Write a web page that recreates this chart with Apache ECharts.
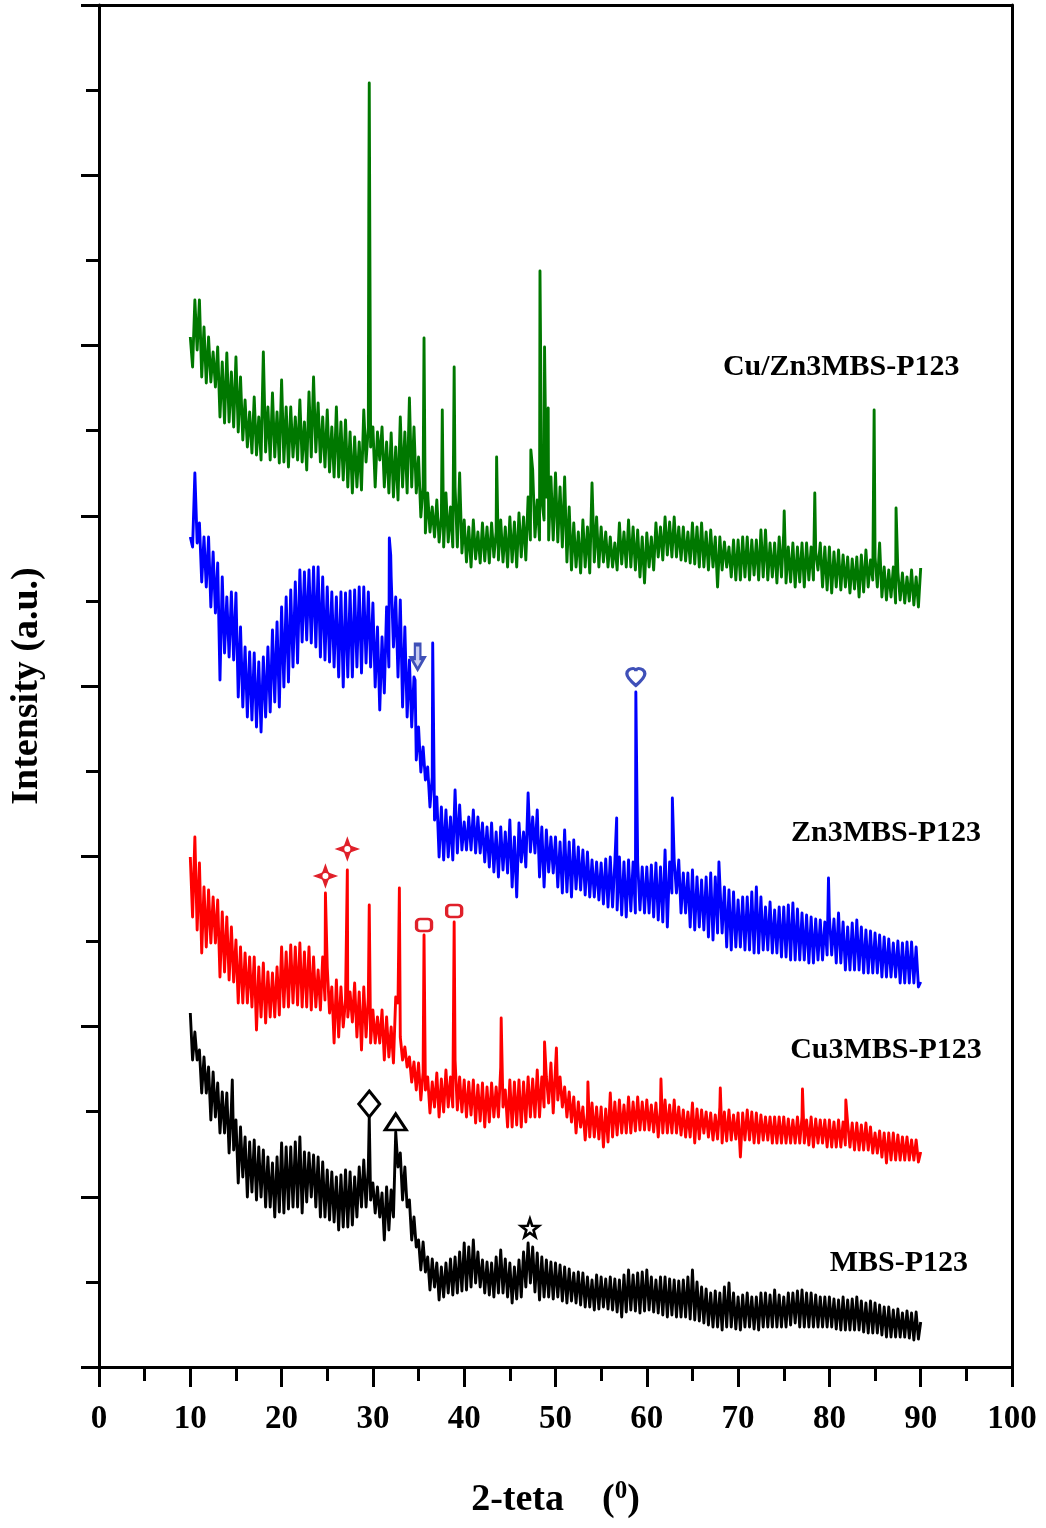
<!DOCTYPE html>
<html>
<head>
<meta charset="utf-8">
<title>XRD patterns</title>
<script src="https://cdn.jsdelivr.net/npm/echarts@6/dist/echarts.min.js"></script>
<style>
  html, body { margin: 0; padding: 0; background: #fff; }
  #chart { width: 1046px; height: 1528px; }
</style>
</head>
<body>
<div id="chart"></div>
<script>
// Scans are sampled every 0.25 deg from 10 to 90 deg (one row = one degree).
// Intensities are in a.u. with each pattern already offset, read off the figure.
const thetaStart = 10;
const thetaStep = 0.25;

const cuZn3MbsScan = [
  [1030,1000,1067,1017],[1067,990,1040,984],[1030,985,1015,980],[1020,950,1005,944],[1014,945,995,940],
  [1010,935,990,927],[967,920,955,914],[970,912,950,907],[1015,915,960,907],[974,910,955,904],
  [987,905,960,900],[960,910,950,907],[967,905,945,897],[975,910,990,915],[964,905,950,900],
  [957,895,940,890],[960,890,945,887],[947,880,935,874],[930,880,925,877],[957,905,940,920],
  [940,880,935,907],[940,880,925,874],[934,870,920,867],[950,880,935,874],[969,880,940,874],
  [910,850,880,834],[874,835,860,830],[867,825,850,820],[874,825,860,820],[880,820,894,814],
  [847,805,840,800],[847,808,835,804],[844,806,840,804],[844,810,835,807],[847,805,840,800],
  [850,805,845,800],[854,810,850,807],[870,827,897,830],[867,827,867,847],[870,827,890,827],
  [894,825,880,820],[890,805,860,797],[844,800,835,794],[847,800,840,794],[884,805,850,800],
  [840,805,835,800],[830,800,824,797],[844,803,835,800],[847,800,840,797],[837,790,830,784],
  [834,800,830,797],[844,810,840,807],[850,812,845,810],[850,810,840,807],[840,806,835,804],
  [844,803,840,800],[844,800,835,797],[837,800,830,780],[830,797,825,800],[820,790,827,787],
  [827,787,830,790],[830,787,827,792],[827,787,837,790],[837,787,824,790],[824,784,830,790],
  [835,784,820,785],[824,780,820,785],[824,780,824,787],[820,787,815,797],[824,780,820,777],
  [820,774,815,780],[817,777,812,780],[810,774,808,778],[810,770,812,775],[817,780,807,787],
  [810,780,824,770],[800,767,797,770],[800,764,795,767],[794,764,790,766],[797,762,790,760],
  [799]
].flat();
const cuZn3MbsPeaks = [[29.55,1154],[29.6,1284],[35.6,1029],[37.6,957],[38.9,1000],[43.55,910],[47.3,917],
  [48.3,1096],[48.8,1020],[49.2,959],[75.05,856],[78.4,874],[84.9,957],[87.3,859]];

const zn3MbsScan = [
  [830,820,894,824],[844,785,830,780],[830,760,815,754],[804,687,790,714],[770,710,775,707],
  [774,670,740,660],[720,650,715,647],[714,640,705,635],[710,650,720,655],[737,665,745,660],
  [760,680,770,685],[777,700,785,704],[797,725,795,727],[797,724,800,720],[800,710,790,707],
  [780,705,775,700],[770,690,775,680],[774,690,776,690],[777,700,780,694],[780,704,775,700],
  [764,680,740,657],[730,674,760,700],[790,720,770,690],[767,660,740,650],[707,640,690,607],
  [640,595,620,587],[600,560,590,547],[570,510,560,507],[557,510,550,507],[577,514,562,517],
  [545,517,550,517],[557,514,550,514],[544,505,540,500],[544,495,535,490],[540,497,535,494],
  [547,480,530,470],[544,505,535,500],[574,515,550,514],[557,490,540,480],[537,495,530,494],
  [530,480,525,474],[537,475,525,470],[527,478,520,477],[517,472,515,470],[507,470,505,467],
  [504,463,508,460],[510,460,505,457],[510,452,505,450],[507,456,505,454],[505,457,500,454],
  [500,454,502,450],[504,447,500,445],[517,440,505,474],[507,474,507,454],[494,454,494,440],
  [497,437,490,440],[487,437,490,430],[494,427,490,434],[484,434,480,420],[477,417,475,420],
  [467,420,470,417],[470,417,475,414],[480,414,470,417],[460,417,465,414],[457,414,460,410],
  [460,410,462,407],[464,407,458,407],[454,407,452,404],[450,404,448,407],[447,407,445,412],
  [450,412,448,404],[454,404,445,397],[440,397,444,397],[447,397,440,394],[437,394,436,394],
  [434,394,432,390],[430,390,428,390],[424,390,426,384],[424,384,425,384],[425,384,420,380],
  [385]
].flat();
const zn3MbsPeaks = [[31.8,829],[31.95,812],[34.62,687],[36.55,724],[56.7,549],[58.8,675],[62.8,569],
  [67.9,505],[79.9,489]];

const cu3MbsScan = [
  [510,450,530,437],[504,414,480,420],[477,424,470,424],[467,390,455,395],[450,387,440,385],
  [427,364,420,364],[414,364,410,360],[410,337,400,350],[404,344,395,350],[394,350,400,352],
  [420,360,415,360],[422,364,420,362],[424,360,415,360],[420,357,410,360],[397,357,410,367],
  [400,354,380,324],[387,330,380,340],[367,350,375,345],[384,330,375,317],[380,330,370,324],
  [357,324,350,324],[357,307,350,310],[340,304,370,364],[330,307,320,300],[310,285,305,277],
  [304,267,295,277],[290,254,285,260],[294,250,288,255],[297,260,290,260],[307,257,290,255],
  [287,250,285,252],[287,244,282,246],[284,240,280,245],[284,250,280,250],[300,260,277,240],
  [287,240,285,242],[287,240,285,245],[290,250,288,250],[297,250,290,260],[290,264,304,254],
  [300,267,290,260],[280,250,275,245],[270,234,265,240],[260,227,255,230],[264,230,260,228],
  [260,220,258,225],[274,230,265,232],[267,234,262,234],[270,234,265,236],[270,237,265,237],
  [267,237,262,235],[264,230,260,234],[267,234,262,234],[267,234,260,232],[257,230,255,230],
  [264,224,258,228],[257,234,255,230],[254,227,252,228],[260,224,255,226],[257,227,252,228],
  [254,210,254,227],[257,227,255,224],[254,224,252,227],[250,227,250,224],[250,224,250,224],
  [250,224,248,224],[247,224,250,224],[250,224,247,222],[250,220,248,224],[247,224,247,220],
  [247,220,245,220],[247,220,245,222],[244,220,244,217],[244,217,242,217],[244,217,240,214],
  [234,214,236,210],[234,204,234,207],[234,207,232,207],[230,207,230,207],[227,207,227,205],
  [215]
].flat();
const cu3MbsPeaks = [[24.8,474],[27.2,497],[29.6,462],[32.9,479],[35.6,432],[38.9,445],[44.05,349],
  [48.8,325],[50.1,319],[53.55,285],[61.55,288],[68.05,279],[77.05,278],[81.8,267]];

const mbsP123Scan = [
  [354,307,335,307],[317,274,310,274],[300,247,295,250],[284,234,275,234],[274,214,260,217],
  [247,184,240,190],[230,170,225,175],[227,167,220,170],[217,160,210,160],[204,150,210,155],
  [224,154,220,158],[220,160,225,160],[230,154,215,165],[214,170,212,160],[210,150,205,150],
  [197,147,195,145],[190,137,192,140],[197,140,195,142],[190,150,200,160],[207,160,200,167],
  [184,154,180,150],[174,127,180,137],[177,150,235,200],[214,167,200,160],[167,127,150,120],
  [127,97,125,95],[110,77,108,80],[104,67,100,70],[104,74,108,72],[110,74,115,76],
  [124,77,120,80],[127,84,115,80],[107,74,105,72],[104,70,110,74],[117,74,108,70],
  [104,64,100,68],[107,70,115,80],[124,84,120,75],[114,67,110,70],[107,70,105,68],
  [104,70,102,66],[100,64,98,66],[94,64,95,62],[94,60,90,60],[87,57,92,58],
  [90,60,88,58],[90,57,88,55],[87,50,92,55],[97,57,92,56],[94,54,95,56],
  [97,57,90,55],[87,54,90,52],[90,50,88,52],[87,50,86,50],[87,50,90,48],
  [97,47,85,46],[80,44,78,42],[74,40,76,40],[74,37,80,40],[84,40,74,38],
  [70,37,72,40],[74,40,70,38],[70,37,74,40],[74,40,72,40],[77,40,72,40],
  [70,40,74,42],[74,44,76,40],[77,40,74,40],[74,40,72,40],[70,40,70,40],
  [70,40,68,38],[67,37,70,37],[67,37,68,37],[70,37,66,35],[64,34,66,34],
  [64,34,62,32],[60,30,60,30],[57,30,58,30],[54,30,56,29],[54,27,55,28],
  [45]
].flat();
const mbsP123Peaks = [[14.6,287],[29.6,250]];

// phase markers above the peaks
const arrowMarks = [[34.9, 710]];
const heartMarks = [[58.8, 690]];
const sparkleMarks = [[24.8, 491], [27.2, 518]];
const squareMarks = [[35.6, 442], [38.9, 456]];
const diamondMarks = [[29.6, 263]];
const triangleMarks = [[32.5, 245]];
const starMarks = [[47.2, 139]];

// sample names next to each pattern: [name, 2theta, intensity]
const sampleLabels = [
  ['Cu/Zn3MBS-P123', 81.3, 1000],
  ['Zn3MBS-P123', 86.2, 534],
  ['Cu3MBS-P123', 86.2, 317],
  ['MBS-P123', 87.6, 104]
];

const FONT = '"Liberation Serif", "Times New Roman", serif';
const chart = echarts.init(document.getElementById('chart'));

// scan + narrow reflections merged into one x-sorted trace
function trace(scan, peaks) {
  const pts = scan.map((v, i) => [thetaStart + i * thetaStep, v]);
  return pts.concat(peaks).sort((a, b) => a[0] - b[0]);
}

function pattern(name, data, color) {
  return {
    name, type: 'line', data,
    showSymbol: false, symbol: 'none', silent: true,
    lineStyle: { color, width: 2.9, join: 'round' }
  };
}

function marks(name, data, symbol, size, color, fill, width) {
  return {
    name, type: 'scatter', data, symbol, symbolSize: size, silent: true, z: 5,
    itemStyle: { color: fill, borderColor: color, borderWidth: width, opacity: 1 }
  };
}

const starPath = 'path://M0,-10L2.35,-3.24L9.51,-3.09L3.8,1.24L5.88,8.09L0,4L-5.88,8.09L-3.8,1.24L-9.51,-3.09L-2.35,-3.24Z';
const sparklePath = 'path://M0,-10L2.6,-2.6L10,0L2.6,2.6L0,10L-2.6,2.6L-10,0L-2.6,-2.6Z';
const arrowPath = 'path://M-3,-12L3,-12L3,0L7,0L0,10L-7,0L-3,0Z';
const heartPath = 'path://M0,9C-6,4 -10,0 -10,-4C-10,-8 -6,-10 -3,-10C-1,-10 0,-8 0,-7C0,-8 1,-10 3,-10C6,-10 10,-8 10,-4C10,0 6,4 0,9Z';

const axisText = { color: '#000', fontFamily: FONT, fontWeight: 'bold' };

chart.setOption({
  animation: false,
  backgroundColor: '#fff',
  grid: { left: 99, right: 34, top: 5, bottom: 161 },
  xAxis: [{
    type: 'value', min: 0, max: 100, interval: 10,
    name: '2-teta    ({s|0})',
    nameLocation: 'middle', nameGap: 112,
    nameTextStyle: Object.assign({ fontSize: 38, rich: { s: Object.assign({ fontSize: 25, padding: [0, 0, 18, 0] }, axisText) } }, axisText),
    axisLine: { onZero: false, lineStyle: { color: '#000', width: 3 } },
    axisTick: { length: 20, lineStyle: { color: '#000', width: 3 } },
    minorTick: { show: true, splitNumber: 2, length: 14, lineStyle: { color: '#000', width: 3 } },
    axisLabel: Object.assign({ fontSize: 33, margin: 36 }, axisText),
    splitLine: { show: false }
  }, {
    type: 'value', min: 0, max: 100, position: 'top',
    axisLine: { onZero: false, lineStyle: { color: '#000', width: 3 } },
    axisTick: { show: false }, axisLabel: { show: false }, splitLine: { show: false }
  }],
  yAxis: [{
    type: 'value', min: 0, max: 1362, interval: 170.25,
    name: 'Intensity (a.u.)',
    nameLocation: 'middle', nameGap: 53,
    nameTextStyle: Object.assign({ fontSize: 38 }, axisText),
    axisLine: { onZero: false, lineStyle: { color: '#000', width: 3 } },
    axisTick: { length: 18, lineStyle: { color: '#000', width: 3 } },
    minorTick: { show: true, splitNumber: 2, length: 13, lineStyle: { color: '#000', width: 3 } },
    axisLabel: { show: false },
    splitLine: { show: false }
  }, {
    type: 'value', min: 0, max: 1362, position: 'right',
    axisLine: { onZero: false, lineStyle: { color: '#000', width: 3 } },
    axisTick: { show: false }, axisLabel: { show: false }, splitLine: { show: false }
  }],
  series: [
    pattern('Cu/Zn3MBS-P123', trace(cuZn3MbsScan, cuZn3MbsPeaks), '#007800'),
    pattern('Zn3MBS-P123', trace(zn3MbsScan, zn3MbsPeaks), '#0000ff'),
    pattern('Cu3MBS-P123', trace(cu3MbsScan, cu3MbsPeaks), '#ff0000'),
    pattern('MBS-P123', trace(mbsP123Scan, mbsP123Peaks), '#000000'),
    marks('arrow', arrowMarks, arrowPath, [13, 25], '#3f50b8', '#c8cdf0', 3),
    marks('heart', heartMarks, heartPath, [18, 17], '#3f50b8', '#fff', 3.2),
    marks('sparkle', sparkleMarks, sparklePath, [21, 21], '#e0202a', '#e0202a', 1.5),
    marks('sparkle-eye', sparkleMarks, 'circle', 8, '#e0202a', '#fff', 2),
    marks('square', squareMarks, 'roundRect', [15, 12], '#e0202a', '#fff', 3),
    marks('diamond', diamondMarks, 'diamond', [21, 26], '#000', '#fff', 3),
    marks('triangle', triangleMarks, 'triangle', [21, 16], '#000', '#fff', 3),
    marks('star', starMarks, starPath, [18, 18], '#000', '#fff', 2.6),
    {
      name: 'labels', type: 'scatter', symbolSize: 0, silent: true, z: 6,
      itemStyle: { opacity: 1 },
      data: sampleLabels.map(d => ({ name: d[0], value: [d[1], d[2]] })),
      label: Object.assign({
        show: true, position: 'top', distance: -15, formatter: p => p.name, fontSize: 30
      }, axisText)
    }
  ]
});
</script>
</body>
</html>
